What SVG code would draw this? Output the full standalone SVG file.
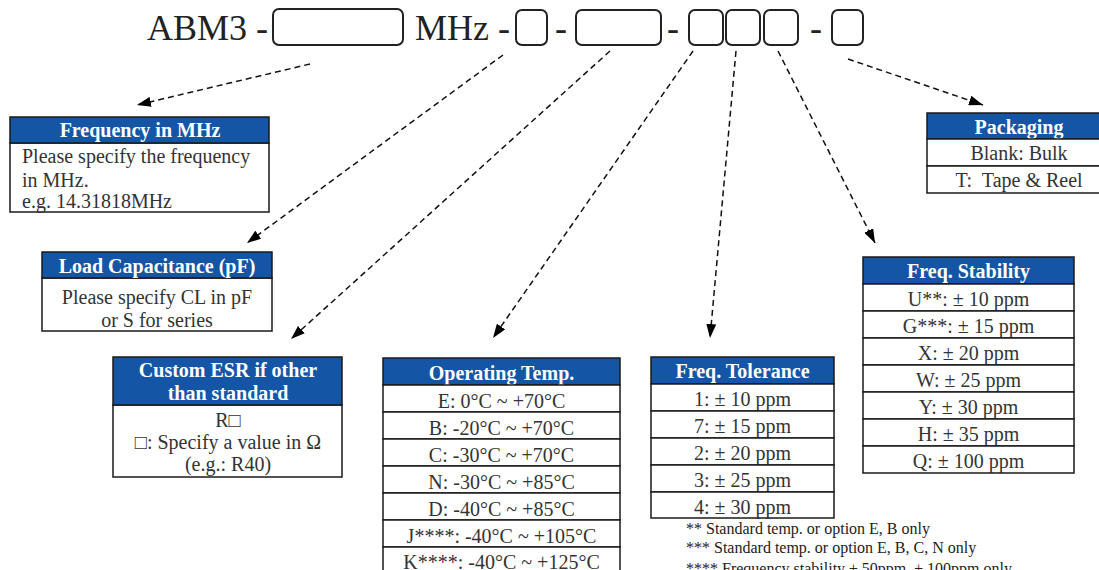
<svg xmlns="http://www.w3.org/2000/svg" width="1099" height="570" viewBox="0 0 1099 570">
<style>
.hdr{fill:#1456a5;stroke:#1a1a1a;stroke-width:1.5}
.cell{fill:#fff;stroke:#1a1a1a;stroke-width:1.5}
.ht{font-family:"Liberation Serif",serif;font-weight:bold;font-size:20px;fill:#fff;text-anchor:middle}
.bt{font-family:"Liberation Serif",serif;font-size:20px;fill:#333;text-anchor:middle}
.bl{font-family:"Liberation Serif",serif;font-size:20px;fill:#333}
.title{font-family:"Liberation Serif",serif;font-size:36px;fill:#222}
.slot{fill:#fff;stroke:#222;stroke-width:2}
.fn{font-family:"Liberation Serif",serif;font-size:16px;fill:#222}
.conn{fill:none;stroke:#111;stroke-width:1.5;stroke-dasharray:6 4}
</style>
<defs>
<marker id="ah" viewBox="0 0 14 10" refX="14" refY="5" markerWidth="14" markerHeight="10" markerUnits="userSpaceOnUse" orient="auto">
<path d="M0,0 L14,5 L0,10 z" fill="#000"/>
</marker>
</defs>
<rect width="1099" height="570" fill="#fff"/>

<g id="partnumber">
<text class="title" x="147" y="40">ABM3 -</text>
<rect class="slot" x="273" y="9" width="130" height="36" rx="6"/>
<text class="title" x="415" y="40">MHz -</text>
<rect class="slot" x="516" y="10" width="31" height="35" rx="6"/>
<text class="title" x="555" y="40">-</text>
<rect class="slot" x="576" y="10" width="85" height="35" rx="6"/>
<text class="title" x="667" y="40">-</text>
<rect class="slot" x="689" y="10" width="34" height="35" rx="6"/>
<rect class="slot" x="726" y="10" width="34" height="35" rx="6"/>
<rect class="slot" x="764" y="10" width="34" height="35" rx="6"/>
<text class="title" x="810" y="40">-</text>
<rect class="slot" x="832" y="10" width="31" height="35" rx="6"/>
</g>

<g id="connectors">
<path class="conn" d="M310,64 L137,105" marker-end="url(#ah)"/>
<path class="conn" d="M503,55 L247,243" marker-end="url(#ah)"/>
<path class="conn" d="M610,51 L291,339" marker-end="url(#ah)"/>
<path class="conn" d="M693,51 L493,338" marker-end="url(#ah)"/>
<path class="conn" d="M736,51 L710,338" marker-end="url(#ah)"/>
<path class="conn" d="M778,51 L875,243" marker-end="url(#ah)"/>
<path class="conn" d="M848,59 L983,105" marker-end="url(#ah)"/>
</g>

<g id="frequency">
<rect class="cell" x="10" y="143" width="259" height="69"/>
<rect class="hdr" x="10" y="117" width="259" height="26"/>
<text class="ht" x="140" y="137">Frequency in MHz</text>
<text class="bl" x="22" y="163">Please specify the frequency</text>
<text class="bl" x="22" y="187">in MHz.</text>
<text class="bl" x="22" y="208">e.g. 14.31818MHz</text>
</g>

<g id="load-capacitance">
<rect class="cell" x="42" y="278" width="230" height="53"/>
<rect class="hdr" x="42" y="252" width="230" height="26"/>
<text class="ht" x="157" y="273">Load Capacitance (pF)</text>
<text class="bt" x="157" y="304">Please specify CL in pF</text>
<text class="bt" x="157" y="327">or S for series</text>
</g>

<g id="custom-esr">
<rect class="cell" x="113" y="405" width="229" height="72"/>
<rect class="hdr" x="113" y="357" width="229" height="48"/>
<text class="ht" x="228" y="377">Custom ESR if other</text>
<text class="ht" x="228" y="400">than standard</text>
<text class="bt" x="228" y="427">R□</text>
<text class="bt" x="228" y="449">□: Specify a value in Ω</text>
<text class="bt" x="228" y="471">(e.g.: R40)</text>
</g>

<g id="operating-temp">
<rect class="hdr" x="383" y="358" width="237" height="27"/>
<text class="ht" x="501.5" y="380">Operating Temp.</text>
<rect class="cell" x="383" y="385" width="237" height="27"/>
<text class="bt" x="501.5" y="408">E: 0°C ~ +70°C</text>
<rect class="cell" x="383" y="412" width="237" height="27"/>
<text class="bt" x="501.5" y="435">B: -20°C ~ +70°C</text>
<rect class="cell" x="383" y="439" width="237" height="27"/>
<text class="bt" x="501.5" y="462">C: -30°C ~ +70°C</text>
<rect class="cell" x="383" y="466" width="237" height="27"/>
<text class="bt" x="501.5" y="489">N: -30°C ~ +85°C</text>
<rect class="cell" x="383" y="493" width="237" height="27"/>
<text class="bt" x="501.5" y="516">D: -40°C ~ +85°C</text>
<rect class="cell" x="383" y="520" width="237" height="27"/>
<text class="bt" x="501.5" y="543">J****: -40°C ~ +105°C</text>
<rect class="cell" x="383" y="547" width="237" height="27"/>
<text class="bt" x="501.5" y="569">K****: -40°C ~ +125°C</text>
</g>

<g id="freq-tolerance">
<rect class="hdr" x="651" y="357" width="183" height="27"/>
<text class="ht" x="742.5" y="378">Freq. Tolerance</text>
<rect class="cell" x="651" y="384" width="183" height="27"/>
<text class="bt" x="742.5" y="406">1: ± 10 ppm</text>
<rect class="cell" x="651" y="411" width="183" height="27"/>
<text class="bt" x="742.5" y="433">7: ± 15 ppm</text>
<rect class="cell" x="651" y="438" width="183" height="27"/>
<text class="bt" x="742.5" y="460">2: ± 20 ppm</text>
<rect class="cell" x="651" y="465" width="183" height="27"/>
<text class="bt" x="742.5" y="487">3: ± 25 ppm</text>
<rect class="cell" x="651" y="492" width="183" height="26"/>
<text class="bt" x="742.5" y="514">4: ± 30 ppm</text>
</g>

<g id="freq-stability">
<rect class="hdr" x="863" y="257" width="211" height="27"/>
<text class="ht" x="968.5" y="278">Freq. Stability</text>
<rect class="cell" x="863" y="284" width="211" height="27"/>
<text class="bt" x="968.5" y="306">U**: ± 10 ppm</text>
<rect class="cell" x="863" y="311" width="211" height="27"/>
<text class="bt" x="968.5" y="333">G***: ± 15 ppm</text>
<rect class="cell" x="863" y="338" width="211" height="27"/>
<text class="bt" x="968.5" y="360">X: ± 20 ppm</text>
<rect class="cell" x="863" y="365" width="211" height="27"/>
<text class="bt" x="968.5" y="387">W: ± 25 ppm</text>
<rect class="cell" x="863" y="392" width="211" height="27"/>
<text class="bt" x="968.5" y="414">Y: ± 30 ppm</text>
<rect class="cell" x="863" y="419" width="211" height="27"/>
<text class="bt" x="968.5" y="441">H: ± 35 ppm</text>
<rect class="cell" x="863" y="446" width="211" height="27"/>
<text class="bt" x="968.5" y="468">Q: ± 100 ppm</text>
</g>

<g id="packaging">
<rect class="hdr" x="927" y="113" width="184" height="26"/>
<text class="ht" x="1019" y="134">Packaging</text>
<rect class="cell" x="927" y="139" width="184" height="27"/>
<text class="bt" x="1019" y="160">Blank: Bulk</text>
<rect class="cell" x="927" y="166" width="184" height="27"/>
<text class="bt" x="1019" y="187" xml:space="preserve">T:  Tape &amp; Reel</text>
</g>

<g id="footnotes">
<text class="fn" x="686" y="534">** Standard temp. or option E, B only</text>
<text class="fn" x="686" y="553">*** Standard temp. or option E, B, C, N only</text>
<text class="fn" x="686" y="574">**** Frequency stability ± 50ppm, ± 100ppm only</text>
</g>
</svg>
